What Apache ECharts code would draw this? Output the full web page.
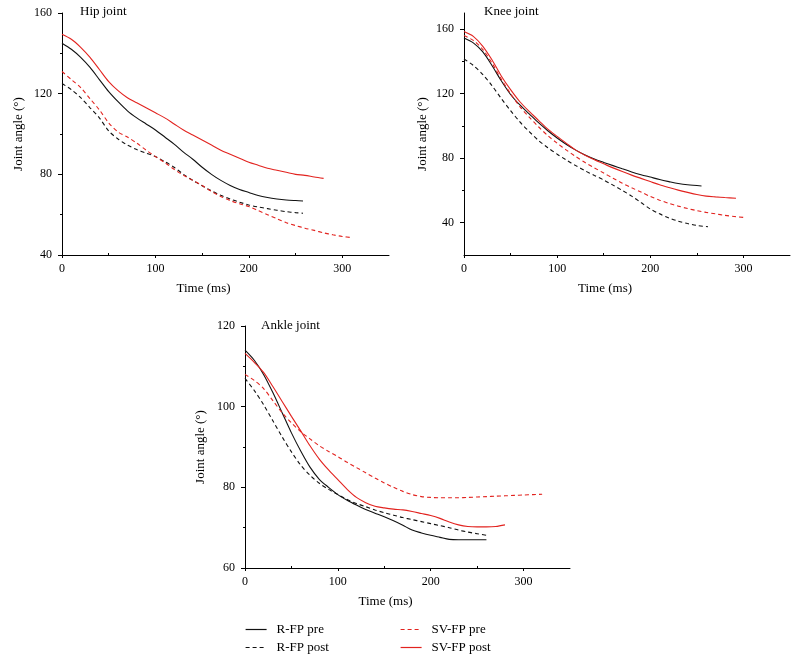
<!DOCTYPE html>
<html><head><meta charset="utf-8">
<script src="https://cdn.jsdelivr.net/npm/echarts@6/dist/echarts.min.js"></script>
<style>html,body{margin:0;padding:0;background:#fff}#c{width:799px;height:663px}</style>
</head><body><div id="c"></div>
<script>
// ---------- data ----------
const seriesNames = ['R-FP pre', 'R-FP post', 'SV-FP pre', 'SV-FP post'];
const panelTitles = ['Hip joint', 'Knee joint', 'Ankle joint'];
const xTickLabels = [0, 100, 200, 300];
const xMinorTicks = [50, 150, 250];
const hipYTicks = [40, 80, 120, 160];
const hipYMinor = [60, 100, 140];
const kneeYTicks = [40, 80, 120, 160];
const kneeYMinor = [60, 100, 140];
const ankleYTicks = [60, 80, 100, 120];
const ankleYMinor = [70, 90, 110];

// Hip
const hipT_RFPpre = [0,10,20,30,40,50,60,70,80,90,100,110,120,130,140,150,160,170,180,190,200,210,220,230,240,250,258];
const hipRFPpre   = [145,142,138,133,127,121,116,111.5,108,105,102,98.5,95,91,87.5,83.5,80,77,74.5,72.5,71,69.5,68.5,67.8,67.3,67,66.8];
const hipT_RFPpost = [0,10,20,30,40,50,60,70,80,90,100,110,120,130,140,150,160,170,180,190,200,210,220,230,240,250,258];
const hipRFPpost   = [125,122,118,113,108,101.5,97.5,94.5,92.3,90.5,88.8,86.3,83.5,80,77,74.3,71.8,69.6,67.8,66.2,64.8,63.8,63,62.2,61.5,61,60.7];
const hipT_SVpre = [0,10,20,30,40,50,60,70,80,90,100,110,120,130,140,150,160,170,180,190,200,210,220,230,240,250,260,270,280,290,300,311];
const hipSVpre   = [131,127,123,117.5,112,105.5,101,98.5,95.5,92,88.8,85.8,82.5,79.5,77,74.5,71.5,69,67,65.4,64,62,60,58,56,54.6,53.3,52.2,51,50,49.2,48.6];
const hipT_SVpost = [0,10,20,30,40,50,60,70,80,90,100,110,120,130,140,150,160,170,180,190,200,210,220,230,240,250,260,270,280];
const hipSVpost   = [149.5,147,143,138,132,126,121.5,118,115.5,113,110.5,108,105,102,99.5,97,94.5,92,90,88,86,84.5,83,82,81,80,79.5,78.7,78];

// Knee
const kneeT_RFPpre = [0,10,20,30,40,50,60,70,80,90,100,110,120,130,140,150,160,170,180,190,200,210,220,230,240,255];
const kneeRFPpre   = [154.5,151.5,146,137.5,128,119.5,113,107.5,102,97,92.5,88.5,85,82,79.5,77.4,75.4,73.4,71.5,69.8,68.3,66.8,65.5,64.3,63.5,62.8];
const kneeT_RFPpost = [0,10,20,30,40,50,60,70,80,90,100,110,120,130,140,150,160,170,180,190,200,210,220,230,240,250,262];
const kneeRFPpost   = [141.5,137.5,132,125,117,109.5,102.5,96.5,91,86.5,82.5,78.8,75.4,72.2,69.3,66.5,63.3,60,56.5,52.5,48.5,45.5,43,41,39.5,38.3,37.5];
const kneeT_SVpre = [0,10,20,30,40,50,60,70,80,90,100,110,120,130,140,150,160,170,180,190,200,210,220,230,240,250,260,270,280,290,300];
const kneeSVpre   = [156,153,147.5,139,129,120,112,105.5,99.5,94,89.3,85,81,77.3,74,70.8,67.6,64.5,61.7,59,56.3,54,52,50.3,48.8,47.5,46.4,45.5,44.6,43.9,43.3];
const kneeT_SVpost = [0,10,20,30,40,50,60,70,80,90,100,110,120,130,140,150,160,170,180,190,200,210,220,230,240,250,260,270,280,292];
const kneeSVpost   = [158.5,155.5,149.5,141,131,122.5,115,109,103.5,98,93.5,89.2,85,81.8,79,76.5,74,71.7,69.5,67.5,65.5,63.5,61.8,60.2,58.8,57.5,56.5,56,55.6,55.2];

// Ankle
const ankleT_RFPpre = [0,10,20,30,40,50,60,70,80,90,100,110,120,130,140,150,160,170,180,190,200,210,220,230,240,250,260];
const ankleRFPpre   = [114,111.5,108,103.5,98.5,93.5,89,85,82,80,78.2,76.8,75.6,74.5,73.6,72.7,71.7,70.6,69.4,68.7,68.1,67.6,67.1,67,67,67,67];
const ankleT_RFPpost = [0,10,20,30,40,50,60,70,80,90,100,110,120,130,140,150,160,170,180,190,200,210,220,230,240,250,260];
const ankleRFPpost   = [107,104,100.5,96.5,92.5,88.8,85.5,83,81,79.5,78.2,77,76,75.2,74.4,73.7,73.1,72.5,72,71.5,71,70.5,70,69.4,68.9,68.5,68.1];
const ankleT_SVpre = [0,10,20,30,40,50,60,70,80,90,100,110,120,130,140,150,160,170,180,190,200,210,220,230,240,250,260,270,280,290,300,310,320];
const ankleSVpre   = [108,106.5,104.5,101.5,98.5,96,93.8,92,90.3,88.9,87.6,86.2,84.9,83.6,82.3,81.1,80,79,78.2,77.7,77.5,77.4,77.4,77.4,77.5,77.6,77.7,77.8,77.9,78,78.1,78.2,78.3];
const ankleT_SVpost = [0,10,20,30,40,50,60,70,80,90,100,110,120,130,140,150,160,170,180,190,200,210,220,230,240,250,260,270,280];
const ankleSVpost   = [113.2,111,108.5,105,101.3,97.6,94,90.3,87,84.3,81.9,79.5,77.5,76.2,75.3,74.9,74.6,74.4,74,73.5,73,72.3,71.4,70.7,70.3,70.2,70.2,70.3,70.7];

// ---------- chart ----------
const F = 'Liberation Serif';
const RED = '#e2231f';
const BLACK = '#111';
const styles = [
  {color: BLACK, type: 'solid'},
  {color: BLACK, type: [4, 3]},
  {color: RED, type: [4, 3]},
  {color: RED, type: 'solid'}
];
const panels = [
  {grid: {left: 62, top: 13, width: 327, height: 242}, ymin: 40, ymax: 160, yt: hipYTicks, ym: hipYMinor,
   data: [[hipT_RFPpre, hipRFPpre], [hipT_RFPpost, hipRFPpost], [hipT_SVpre, hipSVpre], [hipT_SVpost, hipSVpost]],
   title: {left: 80, top: 5}, nameGap: 37},
  {grid: {left: 464, top: 13, width: 326, height: 242}, ymin: 20, ymax: 170, yt: kneeYTicks, ym: kneeYMinor,
   data: [[kneeT_RFPpre, kneeRFPpre], [kneeT_RFPpost, kneeRFPpost], [kneeT_SVpre, kneeSVpre], [kneeT_SVpost, kneeSVpost]],
   title: {left: 484, top: 5}, nameGap: 35},
  {grid: {left: 245, top: 326, width: 325, height: 242}, ymin: 60, ymax: 120, yt: ankleYTicks, ym: ankleYMinor,
   data: [[ankleT_RFPpre, ankleRFPpre], [ankleT_RFPpost, ankleRFPpost], [ankleT_SVpre, ankleSVpre], [ankleT_SVpost, ankleSVpost]],
   title: {left: 261, top: 319}, nameGap: 38}
];

const legendBase = {orient: 'vertical', itemWidth: 21, itemHeight: 14, itemGap: 5, top: 623, padding: 0,
  itemStyle: {opacity: 0},
  lineStyle: {width: 1.2},
  textStyle: {fontFamily: F, fontSize: 13, color: '#000', padding: [0, 0, 0, 5]}};

const option = {
  animation: false,
  backgroundColor: '#fff',
  title: [], grid: [], xAxis: [], yAxis: [], series: [],
  legend: [
    Object.assign({}, legendBase, {left: 245, data: ['R-FP pre', 'R-FP post']}),
    Object.assign({}, legendBase, {left: 400, data: ['SV-FP pre', 'SV-FP post']})
  ]
};

panels.forEach((p, gi) => {
  option.title.push({text: panelTitles[gi], left: p.title.left, top: p.title.top, padding: 0,
    textStyle: {fontFamily: F, fontSize: 13, fontWeight: 'normal', color: '#000'}});
  option.grid.push(p.grid);
  // major x
  option.xAxis.push({type: 'value', gridIndex: gi, min: 0, max: 350, position: 'bottom',
    axisLine: {lineStyle: {color: '#000', width: 1}},
    axisTick: {customValues: xTickLabels, length: 3, lineStyle: {color: '#000'}},
    axisLabel: {customValues: xTickLabels, color: '#000', fontFamily: F, fontSize: 12, margin: 8},
    splitLine: {show: false},
    name: 'Time (ms)', nameLocation: 'middle', nameGap: 27,
    nameTextStyle: {fontFamily: F, fontSize: 13, color: '#000', padding: [0, 44, 0, 0]}});
  // minor x
  option.xAxis.push({type: 'value', gridIndex: gi, min: 0, max: 350, position: 'bottom', offset: 0,
    axisLine: {show: false},
    axisTick: {customValues: xMinorTicks, inside: true, length: 2, lineStyle: {color: '#000'}},
    axisLabel: {show: false}, splitLine: {show: false}});
  // major y
  option.yAxis.push({type: 'value', gridIndex: gi, min: p.ymin, max: p.ymax, position: 'left',
    axisLine: {show: true, lineStyle: {color: '#000', width: 1}},
    axisTick: {show: true, customValues: p.yt, length: 4, lineStyle: {color: '#000'}},
    axisLabel: {customValues: p.yt, color: '#000', fontFamily: F, fontSize: 12, margin: 10},
    splitLine: {show: false},
    name: 'Joint angle (°)', nameLocation: 'middle', nameGap: p.nameGap,
    nameTextStyle: {fontFamily: F, fontSize: 13, color: '#000'}});
  // minor y
  option.yAxis.push({type: 'value', gridIndex: gi, min: p.ymin, max: p.ymax, position: 'left', offset: 0,
    axisLine: {show: false},
    axisTick: {show: true, customValues: p.ym, length: 2, lineStyle: {color: '#000'}},
    axisLabel: {show: false}, splitLine: {show: false}});

  p.data.forEach((d, si) => {
    option.series.push({
      name: seriesNames[si], type: 'line', xAxisIndex: gi * 2, yAxisIndex: gi * 2,
      data: d[0].map((t, i) => [t, d[1][i]]),
      symbol: 'none', showSymbol: false, smooth: 0.3,
      lineStyle: {color: styles[si].color, type: styles[si].type, width: 1.1},
      itemStyle: {color: styles[si].color},
      z: si === 3 ? 4 : 3
    });
  });
});

const chart = echarts.init(document.getElementById('c'), null, {renderer: 'canvas'});
chart.setOption(option);
</script>
</body></html>
